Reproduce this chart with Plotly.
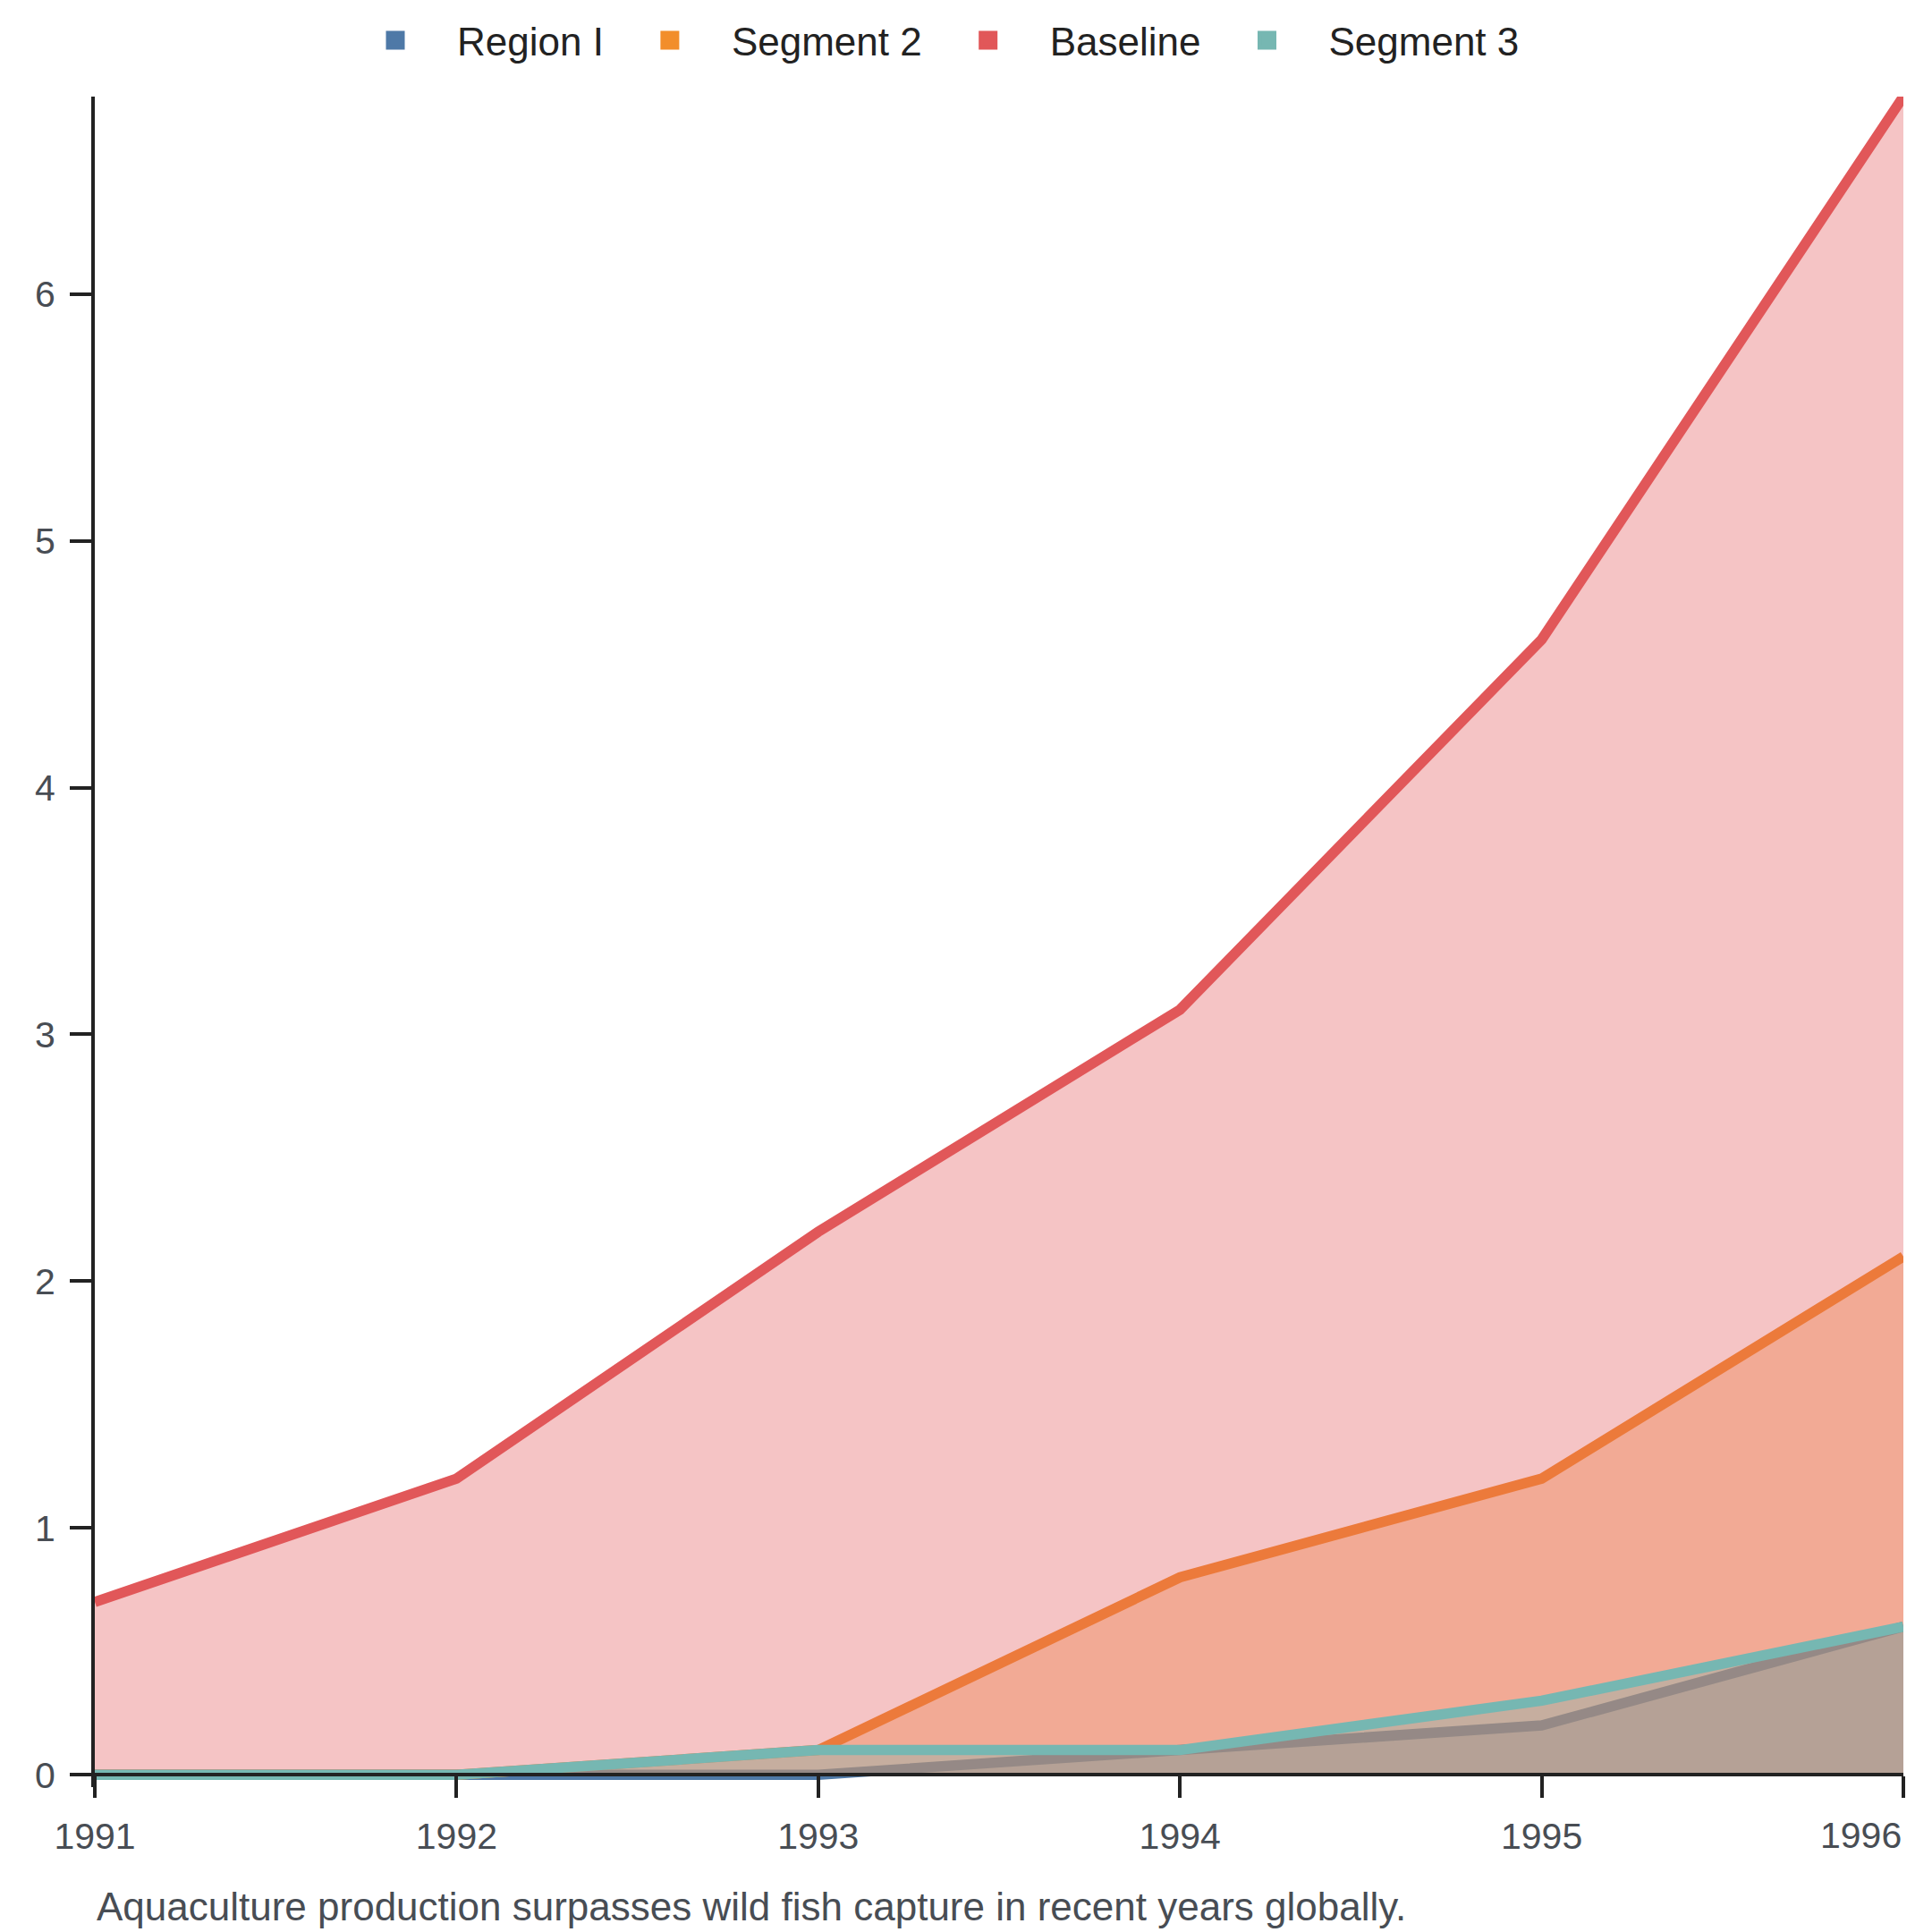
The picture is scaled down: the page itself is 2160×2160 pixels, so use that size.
import plotly.graph_objects as go

years = [1991, 1992, 1993, 1994, 1995, 1996]
series_names = ["Region I", "Segment 2", "Baseline", "Segment 3"]
region_1 = [0.0, 0.0, 0.0, 0.1, 0.2, 0.6]
segment_2 = [0.0, 0.0, 0.1, 0.8, 1.2, 2.1]
baseline = [0.7, 1.2, 2.2, 3.1, 4.6, 6.8]
segment_3 = [0.0, 0.0, 0.1, 0.1, 0.3, 0.6]
series_values = [region_1, segment_2, baseline, segment_3]
colors = ["#4E79A7", "#F28E2B", "#E15759", "#76B7B2"]
y_ticks = [0, 1, 2, 3, 4, 5, 6]
caption = "Aquaculture production surpasses wild fish capture in recent years globally."

FONT = "Liberation Sans, Arial, sans-serif"
TEXT_GREY = "#484d54"
W = H = 2160
y_min, y_max = -0.05, 6.8
M_L, M_R, M_T, M_B = 98, 40, 100, 170


def rgba(hex_color, a):
    h = hex_color.lstrip("#")
    r, g, b = int(h[0:2], 16), int(h[2:4], 16), int(h[4:6], 16)
    return f"rgba({r},{g},{b},{a})"


fig = go.Figure()
for name, vals, col in zip(series_names, series_values, colors):
    fig.add_trace(go.Scatter(
        x=years, y=vals, mode="lines", name=name,
        line=dict(color=col, width=11.5),
        fill="tozeroy", fillcolor=rgba(col, 0.35),
        showlegend=False, hoverinfo="skip",
    ))
# legend entries
for name, col in zip(series_names, colors):
    fig.add_trace(go.Scatter(
        x=[None], y=[None], mode="markers", name=name,
        marker=dict(symbol="square", size=16, color=col, line=dict(color=col, width=5)),
        showlegend=True,
    ))

tick_text = [str(y) for y in years]
tick_text[-1] = ""

fig.update_layout(
    width=W, height=H,
    margin=dict(l=M_L, r=M_R, t=M_T, b=M_B, autoexpand=False),
    paper_bgcolor="white", plot_bgcolor="white",
    font=dict(family=FONT, size=41, color=TEXT_GREY),
    showlegend=True,
    legend=dict(
        orientation="h", xref="container", yref="container",
        x=365 / W, xanchor="left", y=1 - 37.5 / H, yanchor="middle",
        font=dict(size=44, color="#222", family=FONT),
        itemwidth=128, traceorder="normal",
    ),
    xaxis=dict(
        range=[years[0], years[-1]], anchor="free",
        position=(0 - y_min) / (y_max - y_min),
        showline=True, linecolor="#222", linewidth=4,
        ticks="outside", ticklen=24, tickwidth=4, tickcolor="#222",
        tickvals=years, ticktext=tick_text,
        tickfont=dict(size=41, color=TEXT_GREY),
        showgrid=False, zeroline=False, ticklabelstandoff=8,
    ),
    yaxis=dict(
        range=[y_min, y_max],
        showline=True, linecolor="#222", linewidth=4,
        ticks="outside", ticklen=24, tickwidth=4, tickcolor="#222",
        tickvals=y_ticks, tickfont=dict(size=41, color=TEXT_GREY),
        showgrid=False, zeroline=False, ticklabelstandoff=8,
    ),
)

plot_bottom = H - M_B
plot_h = H - M_T - M_B
zero_px = plot_bottom - plot_h * (0 - y_min) / (y_max - y_min)
fig.add_annotation(
    x=years[-1], xref="x", xanchor="right",
    y=(plot_bottom - (zero_px + 68)) / plot_h, yref="paper", yanchor="middle",
    text=str(years[-1]), showarrow=False,
    font=dict(size=41, color=TEXT_GREY, family=FONT),
)
fig.add_annotation(
    x=0, xref="paper", xanchor="left",
    y=(plot_bottom - (zero_px + 147)) / plot_h, yref="paper", yanchor="middle",
    text=caption, showarrow=False,
    font=dict(size=44, color=TEXT_GREY, family=FONT),
)

fig.write_html("out.html")
